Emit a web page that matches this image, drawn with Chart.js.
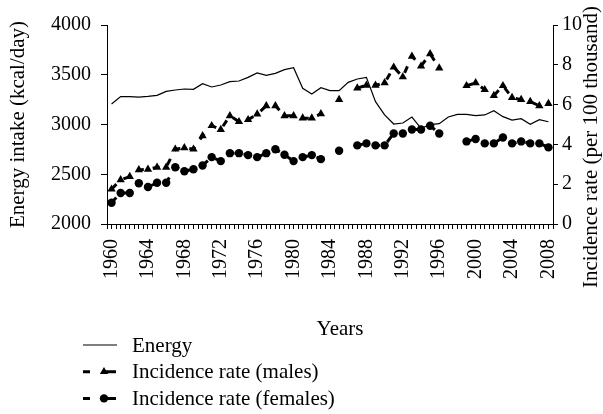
<!DOCTYPE html>
<html>
<head>
<meta charset="utf-8">
<script src="https://cdn.jsdelivr.net/npm/chart.js@4/dist/chart.umd.min.js"></script>
<style>
  body { margin:0; background:#fff; }
  #wrap { width:603px; height:414px; position:relative; }
</style>
</head>
<body>
<div id="wrap"><canvas id="chart"></canvas></div>
<script>
// Energy intake vs incidence rate, 1960-2008
const years = [1960,1961,1962,1963,1964,1965,1966,1967,1968,1969,1970,1971,1972,1973,1974,1975,1976,1977,1978,1979,
  1980,1981,1982,1983,1984,1985,1986,1987,1988,1989,1990,1991,1992,1993,1994,1995,1996,1997,1998,1999,
  2000,2001,2002,2003,2004,2005,2006,2007,2008];
const energy = [3206,3280,3280,3276,3283,3293,3333,3347,3357,3353,3410,3377,3397,3430,3437,3474,3518,3494,3514,3551,
  3571,3364,3307,3370,3340,3340,3424,3457,3474,3229,3096,3005,3015,3075,2962,2998,3008,3075,3102,3102,
  3089,3096,3139,3079,3045,3059,3002,3049,3028];
const males = [1.75,2.22,2.38,2.72,2.75,2.85,2.85,3.76,3.83,3.76,4.43,4.94,4.74,5.44,5.14,5.24,5.52,5.94,5.94,5.44,
  5.44,5.32,5.32,5.54,null,6.25,null,6.83,6.97,6.97,7.09,7.88,7.39,8.43,7.93,8.55,7.84,null,null,6.95,
  7.09,6.75,6.45,6.95,6.35,6.25,6.15,5.94,6.05];
const females = [1.07,1.56,1.56,2.05,1.86,2.07,2.07,2.85,2.65,2.75,2.94,3.36,3.16,3.56,3.56,3.46,3.36,3.56,3.76,3.48,
  3.16,3.36,3.46,3.26,null,3.68,null,3.95,4.05,3.95,3.95,4.55,4.55,4.75,4.75,4.94,4.55,null,null,4.15,
  4.27,4.05,4.05,4.35,4.05,4.15,4.05,4.05,3.85];
const labelYears = [1960,1964,1968,1972,1976,1980,1984,1988,1992,1996,2000,2004,2008];

const serif = '"Liberation Serif", "Times New Roman", serif';
const pts = arr => years.map((y,i) => ({ x:y, y:arr[i] }));

// legend, x title and right title drawn by hand (layout of the original)
const extras = {
  id: 'extras',
  afterDraw(chart) {
    const ctx = chart.ctx;
    ctx.save();
    ctx.fillStyle = '#000';
    ctx.strokeStyle = '#000';
    ctx.font = '21px ' + serif;
    ctx.textAlign = 'center';
    ctx.textBaseline = 'alphabetic';
    ctx.fillText('Years', 340, 335);

    ctx.save();
    ctx.translate(597, 147);
    ctx.rotate(-Math.PI/2);
    ctx.fillText('Incidence rate (per 100 thousand)', 0, 0);
    ctx.restore();

    ctx.textAlign = 'left';
    chart.data.datasets.forEach((ds,i) => {
      const y = 345 + i*26.7;
      ctx.lineWidth = ds.borderWidth;
      ctx.beginPath();
      if (ds.pointRadius) {
        ctx.moveTo(83,y); ctx.lineTo(90,y);
        ctx.moveTo(104,y); ctx.lineTo(116,y);
        ctx.stroke();
        Chart.helpers.drawPoint(ctx, { pointStyle:ds.pointStyle, rotation:0, radius:ds.pointRadius, borderWidth:0 }, 104, y);
      } else {
        ctx.moveTo(83,y); ctx.lineTo(117,y);
        ctx.stroke();
      }
      ctx.fillText(ds.label, 132, y+6.7);
    });
    ctx.restore();
  }
};

new Chart(document.getElementById('chart'), {
  type: 'line',
  data: {
    datasets: [
      { label:'Energy', data:pts(energy), yAxisID:'y', borderColor:'#000', borderWidth:1.2, pointRadius:0, tension:0 },
      { label:'Incidence rate (males)', data:pts(males), yAxisID:'y1', borderColor:'#000', borderWidth:3, borderDash:[7,9],
        pointStyle:'triangle', pointRadius:4.8, pointBackgroundColor:'#000', pointBorderWidth:0, spanGaps:false },
      { label:'Incidence rate (females)', data:pts(females), yAxisID:'y1', borderColor:'#000', borderWidth:3, borderDash:[7,9],
        pointStyle:'circle', pointRadius:4.2, pointBackgroundColor:'#000', pointBorderWidth:0, spanGaps:false }
    ]
  },
  options: {
    responsive: true,
    maintainAspectRatio: false,
    animation: false,
    layout: { padding: { top:25, left:0, right:0, bottom:0 } },
    plugins: { legend:{ display:false }, tooltip:{ enabled:false } },
    scales: {
      x: {
        type:'linear', min:1959.5, max:2008.5,
        afterFit: s => { s.height = 190; },
        grid: { drawOnChartArea:false, drawTicks:true, tickLength:5, color:'#000' },
        border: { color:'#000', width:1 },
        ticks: {
          stepSize:0.5, autoSkip:false, maxTicksLimit:200, minRotation:90, maxRotation:90, padding:10,
          color:'#000', font:{ family:serif, size:20 },
          callback: v => labelYears.includes(v) ? String(v) : ''
        }
      },
      y: {
        position:'left', min:2000, max:4000,
        afterFit: s => { s.width = 107; },
        grid: { drawOnChartArea:false, drawTicks:true, tickLength:6, color:'#000' },
        border: { color:'#000', width:1 },
        ticks: { stepSize:500, padding:10, color:'#000', font:{ family:serif, size:20 }, callback: v => String(v) },
        title: { display:true, text:'Energy intake (kcal/day)', color:'#000', font:{ family:serif, size:21 }, padding:{ top:6, bottom:0 } }
      },
      y1: {
        position:'right', min:0, max:10,
        afterFit: s => { s.width = 50; },
        grid: { drawOnChartArea:false, drawTicks:true, tickLength:5, color:'#000' },
        border: { color:'#000', width:1 },
        ticks: { stepSize:1, padding:4, color:'#000', font:{ family:serif, size:20 }, callback: v => String(v) }
      }
    }
  },
  plugins: [extras]
});
</script>
</body>
</html>
